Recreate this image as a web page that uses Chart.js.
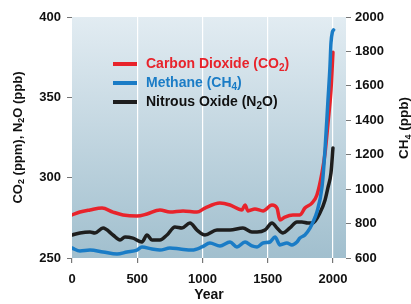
<!DOCTYPE html>
<html>
<head>
<meta charset="utf-8">
<script src="https://cdn.jsdelivr.net/npm/chart.js@4/dist/chart.umd.min.js"></script>
<style>
html,body{margin:0;padding:0;background:#fff;}
#wrap{width:411px;height:304px;position:relative;}
</style>
</head>
<body>
<div id="wrap"><canvas id="c" width="411" height="304"></canvas></div>
<script>
// ---- data ----
const co2Years = [0,61,138,230,314,391,498,575,674,751,851,958,1019,1134,1211,1303,1326,1349,1402,1464,1533,1571,1594,1632,1693,1747,1785,1839,1877,1916,1939,1962,1985,2000];
const co2Values = [276.8,278.6,279.9,281.1,278.6,276.8,276.1,277.4,279.9,278.6,279.3,278.6,281.1,284.2,283.0,279.9,283.0,279.3,280.5,279.3,283.0,281.1,273.7,275.5,276.8,276.8,281.1,284.2,289.2,303,315,334,354.5,378];

const ch4Years = [0,61,138,238,345,421,498,536,613,674,751,828,920,996,1057,1134,1211,1264,1326,1379,1418,1464,1517,1556,1594,1647,1686,1724,1747,1785,1824,1847,1877,1916,1939,1962,1977,1985,1996,2005];
const ch4Values = [658,641,646,635,623,635,646,664,652,646,658,652,646,664,687,670,693,664,693,670,664,687,693,722,676,687,676,693,716,734,774,809,867,1012,1227,1518,1710,1850,1913,1925];

const n2oYears = [0,61,138,176,238,314,368,406,467,536,575,613,674,728,789,843,904,958,1019,1111,1211,1310,1379,1418,1479,1533,1571,1617,1670,1724,1762,1808,1847,1900,1939,1962,1985,2000];
const n2oValues = [264.3,265.6,266.2,265.6,268.7,264.3,261.2,263.1,262.4,260.0,264.3,261.2,261.2,264.3,269.3,268.7,271.8,267.4,264.3,267.4,267.4,268.7,266.2,266.2,267.4,271.8,268.7,265.6,268.7,272.4,272.4,271.8,271.8,278,286,294,303,318.5];

const yearTicks = [0,500,1000,1500,2000];
const leftTicks = [250,300,350,400];
const rightTicks = [600,800,1000,1200,1400,1600,1800,2000];

// labels as rich text segments [text, isSubscript]
const co2Label = [['Carbon Dioxide (CO',0],['2',1],[')',0]];
const ch4Label = [['Methane (CH',0],['4',1],[')',0]];
const n2oLabel = [['Nitrous Oxide (N',0],['2',1],['O)',0]];
const leftTitle = [['CO',0],['2',1],[' (ppm), N',0],['2',1],['O (ppb)',0]];
const rightTitle = [['CH',0],['4',1],[' (ppb)',0]];
const xTitle = [['Year',0]];

const RED = '#e8232b', BLUE = '#1a7cc6', BLACK = '#1e1e1e';
const FONT = '"Liberation Sans", Arial, Helvetica, sans-serif';

function pts(xs, ys){ return xs.map((x,i)=>({x:x, y:ys[i]})); }

function richWidth(ctx, segs, size){
  let w = 0;
  for (const [t,sub] of segs){
    ctx.font = 'bold ' + (sub ? Math.round(size*0.68) : size) + 'px ' + FONT;
    w += ctx.measureText(t).width;
  }
  return w;
}
function drawRich(ctx, segs, size, x, y, color, align, rot){
  ctx.save();
  ctx.translate(x, y);
  if (rot) ctx.rotate(rot);
  ctx.fillStyle = color;
  ctx.textBaseline = 'middle';
  ctx.textAlign = 'left';
  const w = richWidth(ctx, segs, size);
  let cx = align === 'center' ? -w/2 : 0;
  for (const [t,sub] of segs){
    const s = sub ? Math.round(size*0.68) : size;
    ctx.font = 'bold ' + s + 'px ' + FONT;
    ctx.fillText(t, cx, sub ? size*0.3 : 0);
    cx += ctx.measureText(t).width;
  }
  ctx.restore();
}

const bgPlugin = {
  id: 'bg',
  beforeDraw(chart){
    const {ctx, chartArea:a} = chart;
    const g = ctx.createLinearGradient(0, a.top, 0, a.bottom);
    g.addColorStop(0, '#e2ecf2');
    g.addColorStop(1, '#a1bfce');
    ctx.save();
    ctx.fillStyle = g;
    ctx.fillRect(a.left, a.top, a.right - a.left, a.bottom - a.top);
    ctx.restore();
  }
};

const textPlugin = {
  id: 'texts',
  afterDraw(chart){
    const ctx = chart.ctx;
    const a = chart.chartArea;
    // axis titles
    drawRich(ctx, leftTitle, 13, 18, (a.top + a.bottom)/2, '#111', 'center', -Math.PI/2);
    drawRich(ctx, rightTitle, 13.5, 404, 128, '#111', 'center', -Math.PI/2);
    drawRich(ctx, xTitle, 14, (a.left + a.right)/2, 295, '#111', 'center', 0);
    // legend
    const items = [[co2Label, RED, RED],[ch4Label, BLUE, BLUE],[n2oLabel, BLACK, '#111']];
    items.forEach((it, i) => {
      const y = 64 + i*19;
      ctx.save();
      ctx.strokeStyle = it[1];
      ctx.lineWidth = 4;
      ctx.beginPath();
      ctx.moveTo(113, y); ctx.lineTo(137, y);
      ctx.stroke();
      ctx.restore();
      drawRich(ctx, it[0], 14, 146, y, it[2], 'left', 0);
    });
  }
};

const lineBase = {
  pointRadius: 0,
  borderWidth: 3.5,
  fill: false,
  cubicInterpolationMode: 'monotone',
  borderCapStyle: 'round',
  borderJoinStyle: 'round'
};

const tickFont = { family: FONT, size: 13, weight: 'bold' };
const plain = v => String(v);

new Chart(document.getElementById('c'), {
  type: 'line',
  data: {
    datasets: [
      Object.assign({label: 'Carbon Dioxide (CO₂)', data: pts(co2Years, co2Values), borderColor: RED, yAxisID: 'y', order: 1}, lineBase),
      Object.assign({label: 'Methane (CH₄)', data: pts(ch4Years, ch4Values), borderColor: BLUE, yAxisID: 'y2', order: 0}, lineBase),
      Object.assign({label: 'Nitrous Oxide (N₂O)', data: pts(n2oYears, n2oValues), borderColor: BLACK, yAxisID: 'y', order: 2}, lineBase)
    ]
  },
  options: {
    responsive: false,
    animation: false,
    devicePixelRatio: 1,
    layout: { padding: { top: 17, left: 0, right: 0, bottom: 0 } },
    plugins: { legend: { display: false }, tooltip: { enabled: false } },
    scales: {
      x: {
        type: 'linear', min: 0, max: 2100,
        afterBuildTicks(s){ s.ticks = yearTicks.map(v => ({value: v})); },
        afterFit(s){ s.height = 46; },
        border: { display: false },
        grid: {
          color: ctx => (ctx.tick && ctx.tick.value === 0) ? 'rgba(0,0,0,0)' : '#ffffff',
          lineWidth: 1.2,
          tickColor: '#777',
          tickLength: 5,
          drawOnChartArea: true
        },
        ticks: { color: '#111', font: tickFont, padding: 9, maxRotation: 0, callback: plain }
      },
      y: {
        position: 'left', min: 250, max: 400,
        afterBuildTicks(s){ s.ticks = leftTicks.map(v => ({value: v})); },
        afterFit(s){ s.width = 72; },
        border: { display: false },
        grid: { drawOnChartArea: false, tickColor: '#777', tickLength: 5 },
        ticks: { color: '#111', font: tickFont, padding: 6, callback: plain }
      },
      y2: {
        position: 'right', min: 600, max: 2000,
        afterBuildTicks(s){ s.ticks = rightTicks.map(v => ({value: v})); },
        afterFit(s){ s.width = 65; },
        border: { display: false },
        grid: { drawOnChartArea: false, tickColor: '#777', tickLength: 5 },
        ticks: { color: '#111', font: tickFont, padding: 4, callback: plain }
      }
    }
  },
  plugins: [bgPlugin, textPlugin]
});
</script>
</body>
</html>
